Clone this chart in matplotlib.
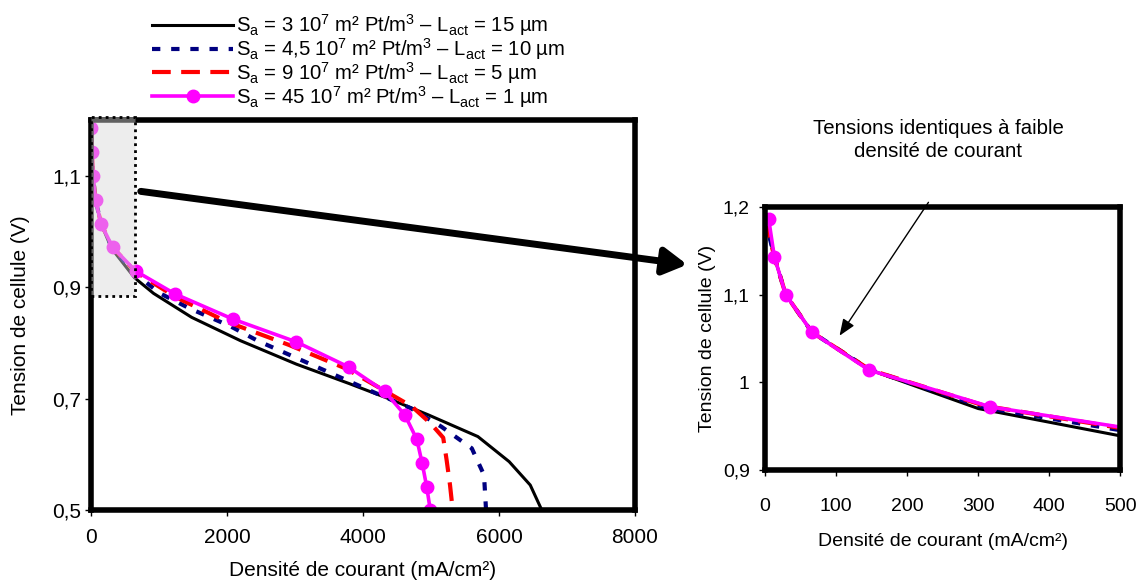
import numpy as np
import matplotlib
matplotlib.use('Agg')
import matplotlib.pyplot as plt
from matplotlib.patches import Rectangle, FancyArrowPatch
from matplotlib.ticker import FuncFormatter

plt.rcParams['font.family'] = ['Liberation Sans', 'DejaVu Sans']
plt.rcParams['mathtext.fontset'] = 'custom'
plt.rcParams['mathtext.rm'] = 'Liberation Sans'

# current density (mA/cm2) and cell voltage (V)
j_15 = [0, 13, 29, 66, 148, 300, 640, 920, 1480, 2200, 3020, 3800, 4400, 4960, 5690, 6150, 6460, 6630]
v_15 = [1.186, 1.143, 1.100, 1.057, 1.014, 0.970, 0.917, 0.889, 0.846, 0.804, 0.762, 0.727, 0.699, 0.671, 0.632, 0.587, 0.545, 0.5]

j_10 = [0, 13, 29, 66, 148, 310, 650, 1000, 1450, 2050, 2450, 3450, 4150, 4700, 5150, 5600, 5780, 5810]
v_10 = [1.186, 1.143, 1.100, 1.057, 1.014, 0.971, 0.925, 0.890, 0.862, 0.830, 0.804, 0.750, 0.712, 0.683, 0.650, 0.611, 0.563, 0.5]

j_5 = [0, 13, 29, 66, 148, 310, 650, 1250, 2000, 2900, 3750, 4350, 4720, 5000, 5180, 5230, 5280, 5320]
v_5 = [1.186, 1.143, 1.100, 1.057, 1.014, 0.973, 0.928, 0.882, 0.838, 0.797, 0.754, 0.712, 0.686, 0.655, 0.630, 0.590, 0.545, 0.5]

j_1 = [5, 13, 29, 66, 146, 317, 657, 1236, 2084, 3017, 3787, 4319, 4615, 4792, 4871, 4937, 4990]
v_1 = [1.186, 1.143, 1.100, 1.057, 1.014, 0.972, 0.929, 0.888, 0.843, 0.802, 0.757, 0.713, 0.671, 0.627, 0.584, 0.542, 0.5]

labels = [
    r'S$_\mathrm{a}$ = 3 10$^7$ m² Pt/m$^3$ – L$_\mathrm{act}$ = 15 µm',
    r'S$_\mathrm{a}$ = 4,5 10$^7$ m² Pt/m$^3$ – L$_\mathrm{act}$ = 10 µm',
    r'S$_\mathrm{a}$ = 9 10$^7$ m² Pt/m$^3$ – L$_\mathrm{act}$ = 5 µm',
    r'S$_\mathrm{a}$ = 45 10$^7$ m² Pt/m$^3$ – L$_\mathrm{act}$ = 1 µm',
]

fig = plt.figure(figsize=(11.42, 5.83), dpi=100)
ax1 = fig.add_axes([0.0797, 0.125, 0.4763, 0.669])
ax2 = fig.add_axes([0.670, 0.194, 0.311, 0.451])

comma = FuncFormatter(lambda v, p: ('%g' % round(v, 2)).replace('.', ','))


def draw_curves(ax):
    hs = []
    hs += ax.plot(j_15, v_15, color='black', lw=2.2)
    hs += ax.plot(j_10, v_10, color='#000080', lw=3, dashes=(2, 2.6))
    hs += ax.plot(j_5, v_5, color='#ff0000', lw=3, dashes=(4.5, 2.5))
    hs += ax.plot(j_1, v_1, color='#ff00ff', lw=2.6, marker='o', ms=9)
    return hs


def style(ax, fs, xpad, ypad, xlp, ylp):
    for s in ax.spines.values():
        s.set_linewidth(4)
    ax.tick_params(labelsize=fs, direction='out', length=4, width=1)
    ax.tick_params(axis='x', pad=xpad)
    ax.tick_params(axis='y', pad=ypad)
    ax.yaxis.set_major_formatter(comma)
    ax.set_xlabel('Densité de courant (mA/cm²)', fontsize=fs, labelpad=xlp)
    ax.set_ylabel('Tension de cellule (V)', fontsize=fs, labelpad=ylp)


handles = draw_curves(ax1)
ax1.set_xlim(0, 8000)
ax1.set_ylim(0.5, 1.2)
ax1.set_xticks([0, 2000, 4000, 6000, 8000])
ax1.set_yticks([0.5, 0.7, 0.9, 1.1])
style(ax1, 15, 9, 3, 10, 16)
ax1.add_patch(Rectangle((0, 0.885), 650, 0.32, facecolor=(0.85, 0.85, 0.85, 0.45),
                        edgecolor='black', ls=(0, (1, 1.5)), lw=2, zorder=5, clip_on=False))

draw_curves(ax2)
ax2.set_xlim(0, 500)
ax2.set_ylim(0.9, 1.2)
ax2.set_xticks([0, 100, 200, 300, 400, 500])
ax2.set_yticks([0.9, 1.0, 1.1, 1.2])
style(ax2, 14, 16, 7, 13, 5)

# big arrow from zoom box to inset
fig.patches.append(FancyArrowPatch((138 / 1142, 1 - 191 / 583), (690 / 1142, 1 - 265 / 583),
                                   transform=fig.transFigure, arrowstyle='-|>,head_length=14,head_width=8',
                                   lw=5, color='black', mutation_scale=1))

fig.text(938 / 1142, 1 - 140 / 583, 'Tensions identiques à faible\ndensité de courant',
         ha='center', va='center', fontsize=14.7, linespacing=1.3)
fig.patches.append(FancyArrowPatch((930 / 1142, 1 - 200 / 583), (838 / 1142, 1 - 338 / 583),
                                   transform=fig.transFigure, arrowstyle='-|>,head_length=10,head_width=4',
                                   lw=1, color='black', mutation_scale=1))

fig.legend(handles, labels, loc='upper left', bbox_to_anchor=(142 / 1142, 1 - 2 / 583),
           frameon=False, fontsize=14.6, handlelength=4.0, handletextpad=0.15,
           labelspacing=-0.1, borderpad=0)

fig.savefig('out.png', dpi=100)
